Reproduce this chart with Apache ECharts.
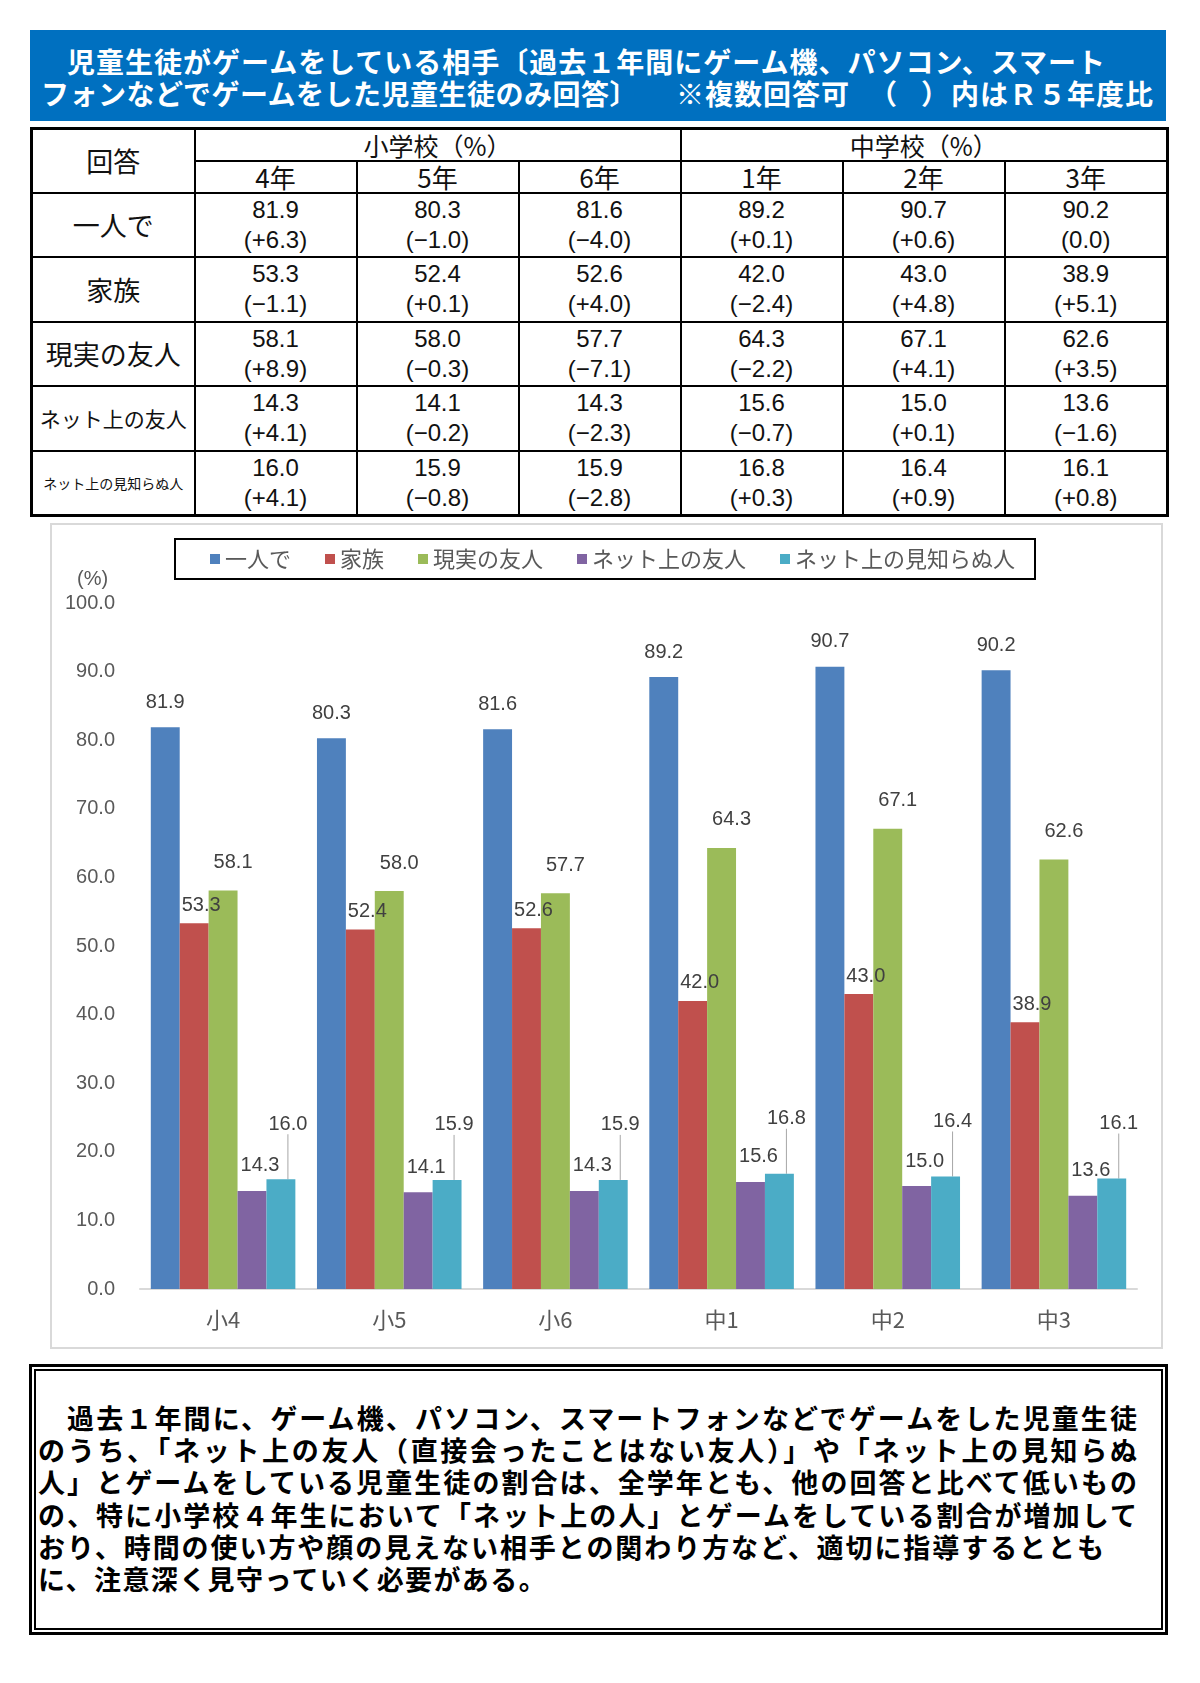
<!DOCTYPE html>
<html><head><meta charset="utf-8">
<script src="https://cdn.jsdelivr.net/npm/echarts@6/dist/echarts.min.js"></script>
<style>
body{margin:0;background:#fff;width:1200px;height:1683px;position:relative;font-family:"Noto Sans CJK JP",sans-serif;overflow:hidden;}
#title{position:absolute;left:30px;top:30px;width:1136px;height:91px;background:#0070C0;color:#fff;font-weight:bold;font-size:28px;}
#title div{position:absolute;white-space:nowrap;line-height:32px;}
#tbl{position:absolute;left:30px;top:127px;border-collapse:collapse;border:3px solid #000;table-layout:fixed;width:1136px;}
#tbl td{border:2px solid #000;text-align:center;padding:0;color:#111;overflow:hidden;white-space:nowrap;}
#tbl td.num{font-family:"Liberation Sans Narrow","Liberation Sans","Noto Sans CJK JP",sans-serif;font-size:24px;line-height:30px;}
#tbl td.hd{font-size:25px;line-height:28px;}
#chartbox{position:absolute;left:50px;top:523px;width:1109px;height:822px;border:2px solid #d9d9d9;}
#chart{width:1109px;height:822px;}
#note{position:absolute;left:29px;top:1364px;width:1133px;height:265px;border:3px solid #000;}
#note .inner{position:absolute;left:2px;top:2px;right:2px;bottom:2px;border:2px solid #000;}
#note .ln{position:absolute;left:6px;white-space:nowrap;font-weight:bold;font-size:27px;line-height:32px;color:#000;}
#note .just{text-align:justify;text-align-last:justify;white-space:normal;}
</style>
</head><body>
<div id="title">
  <div style="left:37px;top:15px;letter-spacing:1px">児童生徒がゲームをしている相手〔過去１年間にゲーム機、パソコン、スマート</div>
  <div style="left:11px;top:47px;letter-spacing:0.5px">フォンなどでゲームをした児童生徒のみ回答〕</div>
  <div style="left:646px;top:47px;letter-spacing:1px">※複数回答可</div>
  <div style="left:839px;top:47px;">（</div>
  <div style="left:891px;top:47px;">）</div>
  <div style="left:921px;top:47px;letter-spacing:1px">内はＲ５年度比</div>
</div>
<table id="tbl"></table>
<div id="chartbox"><div id="chart"></div></div>
<div id="note"><div class="inner"></div></div>
<script>
// ---- data ----
const categories = ['小4','小5','小6','中1','中2','中3'];
const gradeLabels = ['4年','5年','6年','1年','2年','3年'];
const seriesNames = ['一人で','家族','現実の友人','ネット上の友人','ネット上の見知らぬ人'];
const alone   = [81.9, 80.3, 81.6, 89.2, 90.7, 90.2];
const family  = [53.3, 52.4, 52.6, 42.0, 43.0, 38.9];
const realFriend = [58.1, 58.0, 57.7, 64.3, 67.1, 62.6];
const netFriend  = [14.3, 14.1, 14.3, 15.6, 15.0, 13.6];
const netStranger = [16.0, 15.9, 15.9, 16.8, 16.4, 16.1];
const aloneDiff   = [6.3, -1.0, -4.0, 0.1, 0.6, 0.0];
const familyDiff  = [-1.1, 0.1, 4.0, -2.4, 4.8, 5.1];
const realFriendDiff = [8.9, -0.3, -7.1, -2.2, 4.1, 3.5];
const netFriendDiff  = [4.1, -0.2, -2.3, -0.7, 0.1, -1.6];
const netStrangerDiff = [4.1, -0.8, -2.8, 0.3, 0.9, 0.8];
const yTicks = [0,10,20,30,40,50,60,70,80,90,100];
const noteLines = [
 '　過去１年間に、ゲーム機、パソコン、スマートフォンなどでゲームをした児童生徒',
 'のうち、「ネット上の友人（直接会ったことはない友人）」や「ネット上の見知らぬ',
 '人」とゲームをしている児童生徒の割合は、全学年とも、他の回答と比べて低いもの',
 'の、特に小学校４年生において「ネット上の人」とゲームをしている割合が増加して',
 'おり、時間の使い方や顔の見えない相手との関わり方など、適切に指導するととも',
 'に、注意深く見守っていく必要がある。'
];
const colors = ['#4F81BD','#C0504D','#9BBB59','#8064A2','#4BACC6'];

// ---- table ----
const allVals = [alone, family, realFriend, netFriend, netStranger];
const allDiffs = [aloneDiff, familyDiff, realFriendDiff, netFriendDiff, netStrangerDiff];
const rowFont = [27, 27, 27, 21, 14];
const colW = [163,162,162,162,162,162,163];
function fmtDiff(d){ if(d>0) return '(+'+d.toFixed(1)+')'; if(d<0) return '(\u2212'+Math.abs(d).toFixed(1)+')'; return '(0.0)'; }
let html = '<colgroup>' + colW.map(w=>'<col style="width:'+w+'px">').join('') + '</colgroup>';
html += '<tr style="height:32px"><td rowspan="2" style="font-size:27px">回答</td><td colspan="3" class="hd">小学校（%）</td><td colspan="3" class="hd">中学校（%）</td></tr>';
html += '<tr style="height:32px">' + gradeLabels.map(g=>'<td class="hd" style="font-size:26px">'+g+'</td>').join('') + '</tr>';
seriesNames.forEach((n,i)=>{
  html += '<tr style="height:64.5px"><td style="font-size:'+rowFont[i]+'px">'+n+'</td>';
  allVals[i].forEach((v,j)=>{ html += '<td class="num">'+v.toFixed(1)+'<br>'+fmtDiff(allDiffs[i][j])+'</td>'; });
  html += '</tr>';
});
document.getElementById('tbl').innerHTML = html;

// ---- note ----
const note = document.getElementById('note');
const lineW = [1099,1099,1099,1099,1066,0];
noteLines.forEach((t,i)=>{
  const d=document.createElement('div');
  d.className='ln'+(lineW[i]?' just':'');
  if(lineW[i]) d.style.width=lineW[i]+'px'; else d.style.letterSpacing='1.4px';
  d.style.top=(35+i*32.2)+'px'; d.textContent=t; note.appendChild(d);
});

// ---- chart ----
const chart = echarts.init(document.getElementById('chart'), null, {renderer:'canvas'});
const fontNum = '"Liberation Sans","Noto Sans CJK JP",sans-serif';
const labelOffsets = [[0,0],[7,7],[10,-3],[8,0],[0,0]];
const series = allVals.map((vals,i)=>{
  const s = {
    name: seriesNames[i], type:'bar', data: vals, barGap:'0%', barCategoryGap:'13%',
    itemStyle:{color:colors[i]},
    label:{show:true, position:'top', distance:15, offset:labelOffsets[i], color:'#404040', fontSize:20, fontFamily:fontNum, formatter:p=>p.value.toFixed(1)}
  };
  if(i===4){
    s.labelLayout = {dx:7, dy:-30};
    s.labelLine = {show:true, lineStyle:{color:'#a6a6a6', width:1}};
  }
  return s;
});
chart.setOption({
  animation:false,
  textStyle:{fontFamily:'"Noto Sans CJK JP",sans-serif'},
  legend:{
    data: seriesNames, left:123, top:14, itemWidth:10, itemHeight:10, itemGap:34, icon:'rect',
    borderColor:'#000', borderWidth:2, padding:[9,20,9,35],
    textStyle:{fontSize:22, color:'#595959', fontFamily:'"Noto Sans CJK JP",sans-serif'}
  },
  grid:{left:88, right:24, top:78, bottom:58},
  xAxis:{type:'category', data:categories,
    axisLine:{lineStyle:{color:'#d9d9d9', width:2}}, axisTick:{show:false},
    axisLabel:{color:'#595959', fontSize:22, margin:20}},
  yAxis:{type:'value', min:yTicks[0], max:yTicks[yTicks.length-1], interval:10,
    axisLine:{show:false}, axisTick:{show:false}, splitLine:{show:false},
    axisLabel:{color:'#595959', fontSize:20, margin:25, fontFamily:fontNum, formatter:v=>v.toFixed(1)}},
  graphic:[{type:'text', left:25, top:44, style:{text:'(%)', fontSize:20, fill:'#595959', fontFamily:fontNum}}],
  series: series
});
</script>
</body></html>
